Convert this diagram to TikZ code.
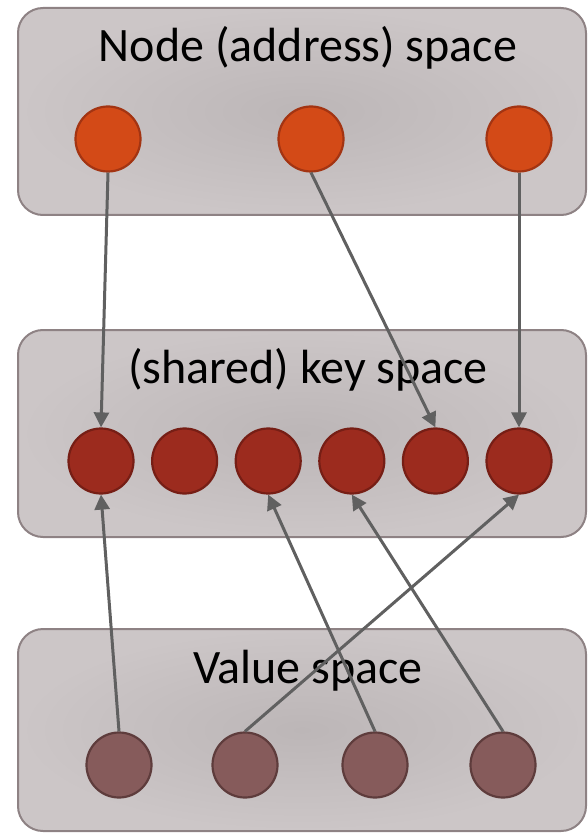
\documentclass[tikz,border=0pt]{standalone}
\usepackage{fontspec}
\setmainfont{Carlito}
\usetikzlibrary{arrows.meta}

\definecolor{boxline}{RGB}{142,130,132}
\definecolor{boxmid}{RGB}{188,182,183}
\definecolor{boxedge}{RGB}{204,198,199}
\definecolor{nodefill}{RGB}{211,74,23}
\definecolor{nodeline}{RGB}{163,52,18}
\definecolor{keyfill}{RGB}{156,43,30}
\definecolor{keyline}{RGB}{118,30,21}
\definecolor{valfill}{RGB}{134,91,91}
\definecolor{valline}{RGB}{94,60,60}
\definecolor{linkgray}{RGB}{96,96,96}

\tikzset{
  space/.style={draw=boxline, line width=2pt, rounded corners=25pt,
    inner color=boxmid, outer color=boxedge},
  title/.style={anchor=base, font=\fontsize{48}{52}\selectfont},
  dot/.style={circle, minimum size=65pt, inner sep=0pt, line width=2.2pt},
  addr/.style={dot, fill=nodefill, draw=nodeline},
  key/.style={dot, fill=keyfill, draw=keyline},
  val/.style={dot, fill=valfill, draw=valline},
  link/.style={draw=linkgray, line width=3pt,
    -{Triangle[length=15pt,width=15pt]}}
}

\begin{document}
\begin{tikzpicture}[x=1pt,y=-1pt]
\useasboundingbox (0,0) rectangle (588,834);

\path[space] (18,8) rectangle (586,215);
\path[space] (18,330) rectangle (586,537);
\path[space] (18,629) rectangle (586,831);

\node[title] (taddr) at (308,62) {Node (address) space};
\node[title] (tkey) at (308,383) {(shared) key space};
\node[title] (tval) at (308,683) {Value space};

\node[addr] (n1) at (108,139) {};
\node[addr] (n2) at (311,139) {};
\node[addr] (n3) at (519,139) {};

\node[key] (k1) at (101,461) {};
\node[key] (k2) at (184.6,461) {};
\node[key] (k3) at (268.2,461) {};
\node[key] (k4) at (351.8,461) {};
\node[key] (k5) at (435.4,461) {};
\node[key] (k6) at (519,461) {};

\node[val] (v1) at (119,765) {};
\node[val] (v2) at (245,765) {};
\node[val] (v3) at (375,765) {};
\node[val] (v4) at (503,765) {};

\draw[link] (n1.south) -- (k1.north);
\draw[link] (n2.south) -- (k5.north);
\draw[link] (n3.south) -- (k6.north);
\draw[link] (v1.north) -- (k1.south);
\draw[link] (v2.north) -- (k6.south);
\draw[link] (v3.north) -- (k3.south);
\draw[link] (v4.north) -- (k4.south);
\end{tikzpicture}
\end{document}
